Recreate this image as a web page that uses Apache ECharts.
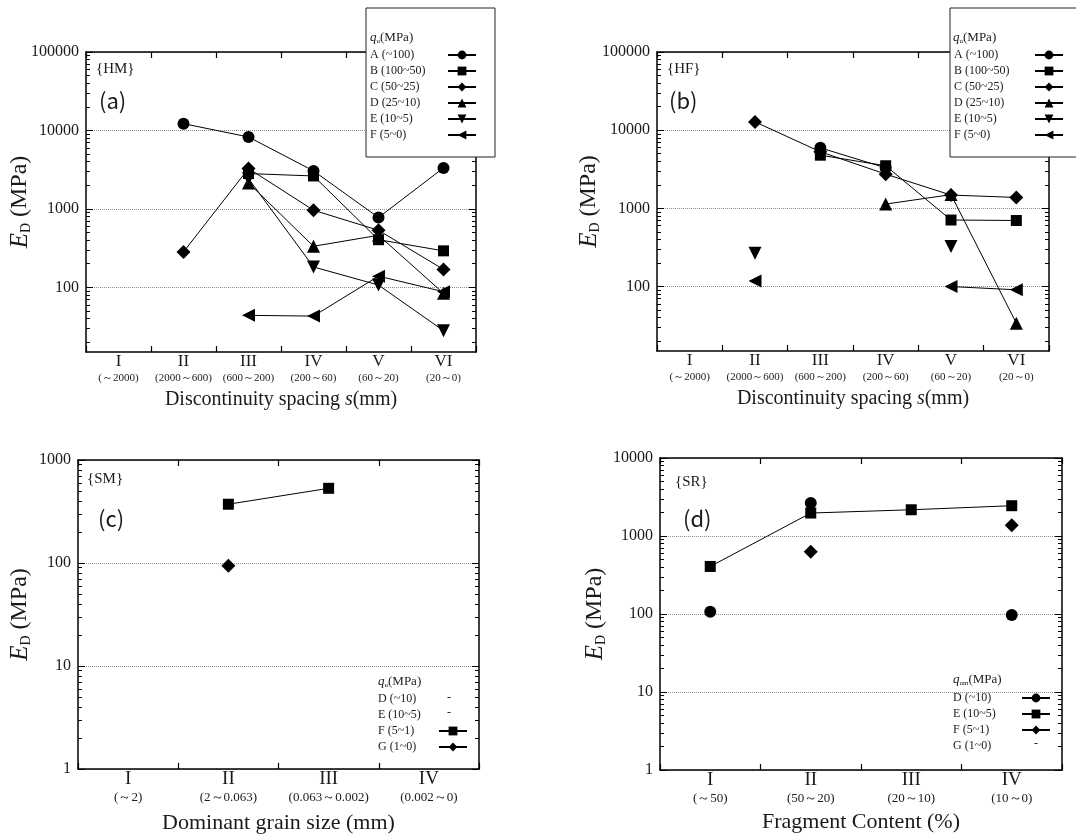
<!DOCTYPE html>
<html>
<head>
<meta charset="utf-8">
<title>E_D vs classification</title>
<script src="https://cdn.jsdelivr.net/npm/echarts@6/dist/echarts.min.js"></script>
<style>
html, body { margin: 0; padding: 0; background: #fff; }
#main { width: 1076px; height: 834px; }
</style>
</head>
<body>
<div id="main"></div>
<script>
// x categories
var romanA = ['I', 'II', 'III', 'IV', 'V', 'VI'];
var spacingA = ['(～2000)', '(2000～600)', '(600～200)', '(200～60)', '(60～20)', '(20～0)'];
var romanC = ['I', 'II', 'III', 'IV'];
var grainC = ['(～2)', '(2～0.063)', '(0.063～0.002)', '(0.002～0)'];
var fragD = ['(～50)', '(50～20)', '(20～10)', '(10～0)'];

// y tick labels
var ticksAB = [100, 1000, 10000, 100000];
var ticksC = [1, 10, 100, 1000];
var ticksD = [1, 10, 100, 1000, 10000];

// (a) {HM}
var hmA = [null, 12200, 8260, 3050, 776, 3330];
var hmB = [null, null, 2820, 2630, 405, 292];
var hmC = [null, 283, 3270, 962, 534, 169];
var hmD = [null, null, 2140, 334, 461, 84];
var hmE = [null, null, 2430, 182, 107, 28];
var hmF = [null, null, 44, 43, 139, 88];

// (b) {HF}
var hfA = [null, null, 5950, 3300, null, null];
var hfB = [null, null, 4790, 3510, 710, 700];
var hfC = [null, 12770, 5300, 2740, 1480, 1380];
var hfD = [null, null, null, 1135, 1500, 34];
var hfE = [null, 267, null, null, 325, null];
var hfF = [null, 118, null, null, 100, 91];

// (c) {SM}
var smF = [null, 372, 531, null];
var smG = [null, 94, null, null];

// (d) {SR}
var srD = [107, 2640, null, 97];
var srE = [407, 1970, 2170, 2445];
var srF = [null, 628, null, 1370];

var legendText = {
    'a-A': 'A (~100)', 'a-B': 'B (100~50)', 'a-C': 'C (50~25)',
    'a-D': 'D (25~10)', 'a-E': 'E (10~5)', 'a-F': 'F (5~0)',
    'b-A': 'A (~100)', 'b-B': 'B (100~50)', 'b-C': 'C (50~25)',
    'b-D': 'D (25~10)', 'b-E': 'E (10~5)', 'b-F': 'F (5~0)',
    'c-D': 'D (~10)', 'c-E': 'E (10~5)', 'c-F': 'F (5~1)', 'c-G': 'G (1~0)',
    'd-D': 'D (~10)', 'd-E': 'E (10~5)', 'd-F': 'F (5~1)', 'd-G': 'G (1~0)'
};

var serif = 'Liberation Serif';
var gothic = 'Noto Sans CJK JP';
var ink = '#1a1a1a';

var chart = echarts.init(document.getElementById('main'));

function minorTicks(lo, hi) {
    var out = [];
    for (var d = 1; d < hi; d *= 10) {
        for (var k = 2; k < 10; k++) {
            if (k * d > lo && k * d < hi) out.push(k * d);
        }
    }
    return out;
}

function xPair(gi, roman, ranges, sz, name, nameGap) {
    var tick = {show: true, inside: true, length: 6, interval: 0, lineStyle: {color: '#000', width: 1.2}};
    var bottom = {
        type: 'category', gridIndex: gi, data: roman, position: 'bottom',
        name: name, nameLocation: 'middle', nameGap: nameGap, nameMoveOverlap: false,
        nameTextStyle: {fontFamily: serif, fontSize: sz.name, color: ink,
            rich: {i: {fontFamily: serif, fontSize: sz.name, fontStyle: 'italic', color: ink}}},
        axisLine: {show: true, onZero: false, lineStyle: {color: '#000', width: 1.5}},
        axisTick: tick,
        axisLabel: {
            interval: 0, margin: sz.margin,
            formatter: function (v) {
                var i = roman.indexOf(v);
                return '{r|' + v + '}\n{s|' + ranges[i] + '}';
            },
            rich: {
                r: {fontFamily: serif, fontSize: sz.roman, lineHeight: sz.romanLH, color: ink},
                s: {fontFamily: serif, fontSize: sz.range, lineHeight: sz.rangeLH, color: ink}
            }
        },
        splitLine: {show: false}
    };
    var top = {
        type: 'category', gridIndex: gi, data: roman, position: 'top',
        axisLine: {show: true, onZero: false, lineStyle: {color: '#000', width: 1.5}},
        axisTick: tick, axisLabel: {show: false}, splitLine: {show: false}
    };
    return [bottom, top];
}

function yQuad(gi, min, max, labels, nameGap) {
    var minors = minorTicks(min, max);
    function base(pos) {
        return {
            type: 'log', logBase: 10, gridIndex: gi, min: min, max: max, position: pos,
            axisLine: {show: true, onZero: false, lineStyle: {color: '#000', width: 1.5}},
            axisLabel: {show: false}, splitLine: {show: false}
        };
    }
    var tickStyle = {color: '#000', width: 1};
    var main = base('left');
    main.name = '{i|E}{s|D}{n| (MPa)}';
    main.nameLocation = 'middle';
    main.nameGap = nameGap;
    main.nameMoveOverlap = false;
    main.nameTextStyle = {
        fontFamily: serif, fontSize: 24, color: ink,
        rich: {
            i: {fontFamily: serif, fontSize: 25, fontStyle: 'italic', lineHeight: 26, color: ink},
            s: {fontFamily: serif, fontSize: 14, lineHeight: 14, verticalAlign: 'bottom', color: ink},
            n: {fontFamily: serif, fontSize: 24, lineHeight: 26, color: ink}
        }
    };
    main.axisTick = {show: true, inside: true, length: 7, customValues: labels, lineStyle: tickStyle};
    main.axisLabel = {
        show: true, customValues: labels, fontFamily: serif, fontSize: 16, color: ink, margin: 7,
        formatter: function (v) { return String(Math.round(v)); }
    };
    main.splitLine = {show: true, lineStyle: {type: 'dotted', color: '#8c8c8c', width: 1}};

    var mainMinor = base('left');
    mainMinor.axisLine = {show: false};
    mainMinor.axisTick = {show: true, inside: true, length: 4, customValues: minors, lineStyle: tickStyle};

    var right = base('right');
    right.axisTick = {show: true, inside: true, length: 7, customValues: labels, lineStyle: tickStyle};

    var rightMinor = base('right');
    rightMinor.axisLine = {show: false};
    rightMinor.axisTick = {show: true, inside: true, length: 4, customValues: minors, lineStyle: tickStyle};
    return [main, mainMinor, right, rightMinor];
}

function ser(name, gi, data, sym, size, rot, hideLine) {
    return {
        name: name, type: 'line', xAxisIndex: 2 * gi, yAxisIndex: 4 * gi,
        data: data, symbol: sym, symbolSize: size, symbolRotate: rot || 0,
        showSymbol: true, showAllSymbol: true, connectNulls: false,
        lineStyle: {color: '#000', width: 1, opacity: hideLine ? 0 : 1},
        itemStyle: {color: '#000'},
        emphasis: {disabled: true}, z: 3
    };
}

function legendFor(left, top, w, data, boxed) {
    var lg = {
        left: left, top: top, orient: 'vertical', align: 'right', selectedMode: false,
        itemWidth: 28, itemHeight: 11, itemGap: 4, data: data,
        formatter: function (n) { return '{t|' + legendText[n] + '}'; },
        textStyle: {rich: {t: {width: w, align: 'left', fontFamily: serif, fontSize: 12, lineHeight: 11, color: ink}}}
    };
    if (boxed) {
        lg.padding = [41, 18, 16, 4];
        lg.borderColor = '#222';
        lg.borderWidth = 1;
        lg.backgroundColor = '#fff';
    } else {
        lg.padding = 0;
    }
    return lg;
}

function note(text, left, top, size, font) {
    return {text: text, left: left, top: top, padding: 0,
        textStyle: {fontFamily: font, fontSize: size, fontWeight: 'normal', color: ink}};
}

function qTitle(sub, left, top) {
    return {text: '{i|q}{s|' + sub + '}{n|(MPa)}', left: left, top: top, padding: 0,
        textStyle: {fontWeight: 'normal', rich: {
            i: {fontFamily: serif, fontStyle: 'italic', fontWeight: 'normal', fontSize: 13, lineHeight: 14, color: ink},
            s: {fontFamily: serif, fontWeight: 'normal', fontSize: 7, lineHeight: 7, verticalAlign: 'bottom', color: ink},
            n: {fontFamily: serif, fontWeight: 'normal', fontSize: 13, lineHeight: 14, color: ink}
        }}};
}

var szAB = {name: 20, roman: 17, romanLH: 18, range: 11, rangeLH: 14, margin: 1};
var szCD = {name: 22, roman: 19, romanLH: 20, range: 13, rangeLH: 18, margin: 0};

var option = {
    backgroundColor: '#fff',
    animation: false,
    grid: [
        {left: 86, top: 52, width: 390, height: 300, outerBoundsMode: 'none'},
        {left: 657, top: 52, width: 392, height: 299, outerBoundsMode: 'none'},
        {left: 78, top: 460, width: 401, height: 309, outerBoundsMode: 'none'},
        {left: 660, top: 458, width: 402, height: 312, outerBoundsMode: 'none'}
    ],
    xAxis: [].concat(
        xPair(0, romanA, spacingA, szAB, 'Discontinuity spacing {i|s}(mm)', 38),
        xPair(1, romanA, spacingA, szAB, 'Discontinuity spacing {i|s}(mm)', 38),
        xPair(2, romanC, grainC, szCD, 'Dominant grain size (mm)', 43),
        xPair(3, romanC, fragD, szCD, 'Fragment Content (%)', 41)
    ),
    yAxis: [].concat(
        yQuad(0, 15, 100000, ticksAB, 53),
        yQuad(1, 15, 100000, ticksAB, 55),
        yQuad(2, 1, 1000, ticksC, 45),
        yQuad(3, 1, 10000, ticksD, 52)
    ),
    title: [
        note('{HM}', 96, 62, 15, serif), note('(a)', 99, 90, 22, gothic),
        note('{HF}', 667, 62, 15, serif), note('(b)', 669, 90, 22, gothic),
        note('{SM}', 87, 472, 15, serif), note('(c)', 98, 508, 22, gothic),
        note('{SR}', 675, 475, 15, serif), note('(d)', 683, 508, 22, gothic),
        qTitle('u', 370, 31), qTitle('u', 953, 31),
        qTitle('u', 378, 675), qTitle('um', 953, 673),
        note('-', 447, 692, 12, serif), note('-', 447, 707, 12, serif),
        note('-', 1034, 738, 12, serif)
    ],
    legend: [
        legendFor(366, 8, 73, ['a-A', 'a-B', 'a-C', 'a-D', 'a-E', 'a-F'], true),
        legendFor(950, 8, 76, ['b-A', 'b-B', 'b-C', 'b-D', 'b-E', 'b-F'], true),
        legendFor(378, 693, 56, [{name: 'c-D', icon: 'none'}, {name: 'c-E', icon: 'none'}, 'c-F', 'c-G'], false),
        legendFor(953, 692, 64, [{name: 'd-D', lineStyle: {opacity: 1}}, 'd-E',
            {name: 'd-F', lineStyle: {opacity: 1}}, {name: 'd-G', icon: 'none'}], false)
    ],
    series: [
        ser('a-A', 0, hmA, 'circle', 12),
        ser('a-B', 0, hmB, 'rect', 11),
        ser('a-C', 0, hmC, 'diamond', 14),
        ser('a-D', 0, hmD, 'triangle', 13),
        ser('a-E', 0, hmE, 'triangle', 13, 180),
        ser('a-F', 0, hmF, 'triangle', 13, 90),

        ser('b-A', 1, hfA, 'circle', 12),
        ser('b-B', 1, hfB, 'rect', 11),
        ser('b-C', 1, hfC, 'diamond', 14),
        ser('b-D', 1, hfD, 'triangle', 13),
        ser('b-E', 1, hfE, 'triangle', 13, 180),
        ser('b-F', 1, hfF, 'triangle', 13, 90),

        ser('c-D', 2, [], 'none', 1),
        ser('c-E', 2, [], 'none', 1),
        ser('c-F', 2, smF, 'rect', 11),
        ser('c-G', 2, smG, 'diamond', 14),

        ser('d-D', 3, srD, 'circle', 12, 0, true),
        ser('d-E', 3, srE, 'rect', 11),
        ser('d-F', 3, srF, 'diamond', 14, 0, true),
        ser('d-G', 3, [], 'none', 1)
    ]
};

chart.setOption(option);
</script>
</body>
</html>
